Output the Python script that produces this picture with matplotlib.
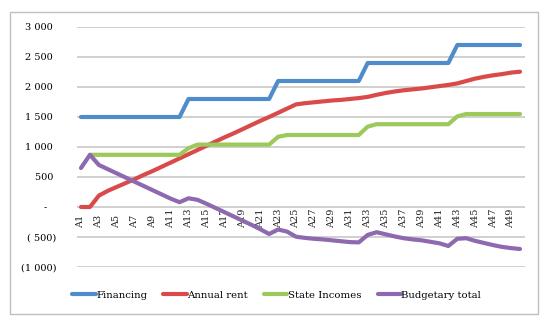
import matplotlib
matplotlib.use("Agg")
import matplotlib.pyplot as plt
from matplotlib.patches import Rectangle
import numpy as np

categories = [f"A{i}" for i in range(1, 51)]

financing = [1500, 1500, 1500, 1500, 1500, 1500, 1500, 1500, 1500, 1500,
             1500, 1500, 1800, 1800, 1800, 1800, 1800, 1800, 1800, 1800,
             1800, 1800, 2100, 2100, 2100, 2100, 2100, 2100, 2100, 2100,
             2100, 2100, 2400, 2400, 2400, 2400, 2400, 2400, 2400, 2400,
             2400, 2400, 2700, 2700, 2700, 2700, 2700, 2700, 2700, 2700]

annual_rent = [0, 0, 190, 270, 335, 400, 465, 535, 600, 670,
               740, 810, 880, 950, 1020, 1090, 1160, 1225, 1295, 1365,
               1435, 1500, 1570, 1640, 1710, 1730, 1745, 1760, 1775, 1785,
               1800, 1815, 1835, 1870, 1900, 1925, 1945, 1960, 1975, 1995,
               2015, 2035, 2060, 2100, 2140, 2170, 2195, 2215, 2240, 2255]

state_incomes = [np.nan, 870, 870, 870, 870, 870, 870, 870, 870, 870,
                 870, 870, 980, 1040, 1040, 1040, 1040, 1040, 1040, 1040,
                 1040, 1040, 1170, 1200, 1200, 1200, 1200, 1200, 1200, 1200,
                 1200, 1200, 1340, 1380, 1380, 1380, 1380, 1380, 1380, 1380,
                 1380, 1380, 1510, 1550, 1550, 1550, 1550, 1550, 1550, 1550]

budgetary_total = [650, 870, 700, 630, 560, 490, 420, 350, 280, 210,
                   140, 80, 145, 120, 55, -15, -85, -155, -225, -295,
                   -370, -450, -375, -410, -495, -515, -530, -540, -555, -570,
                   -585, -590, -465, -420, -455, -490, -520, -540, -555, -580,
                   -605, -650, -530, -520, -565, -600, -635, -665, -685, -700]

series_names = ["Financing", "Annual rent", "State Incomes", "Budgetary total"]
colors = ["#4E8CCB", "#D94B4A", "#9BCA5A", "#8E69B0"]

y_ticks = [-1000, -500, 0, 500, 1000, 1500, 2000, 2500, 3000]
y_tick_labels = ["(1 000)", "( 500)", "-   ", "500 ", "1 000 ", "1 500 ",
                 "2 000 ", "2 500 ", "3 000 "]

FONT = "DejaVu Serif"
FS = 7

fig = plt.figure(figsize=(5.48, 3.26), dpi=100)
ax = fig.add_axes([76.5 / 548, (326 - 267) / 326, 448 / 548, 240 / 326])

x = np.arange(len(categories))
all_series = [financing, annual_rent, state_incomes, budgetary_total]
for vals, name, c in zip(all_series, series_names, colors):
    ax.plot(x, vals, color=c, lw=3.0, label=name, zorder=3,
            solid_capstyle="round", solid_joinstyle="round")

ax.set_xlim(-0.5, len(categories) - 0.5)
ax.set_ylim(-1000, 3000)
ax.set_yticks(y_ticks)
ax.set_yticklabels(y_tick_labels, fontfamily=FONT, fontsize=FS)
ax.tick_params(axis="y", length=0, pad=14.5)
ax.set_xticks([])
ax.grid(axis="y", color="#C4C4C4", lw=1.1, zorder=0)
ax.set_axisbelow(True)
for s in ax.spines.values():
    s.set_visible(False)

# category labels sitting under the zero line
for i, lab in enumerate(categories):
    if i % 2 == 0:
        ax.text(i, -350, lab, rotation=90, ha="center", va="bottom",
                fontfamily=FONT, fontsize=FS, color="#222222", zorder=1)

leg = fig.legend(loc="center", bbox_to_anchor=(0.505, 0.095), ncol=4,
                 frameon=False, prop={"family": FONT, "size": FS + 0.3},
                 handlelength=2.3, handletextpad=0.05, columnspacing=1.6,
                 borderaxespad=0)
for line in leg.get_lines():
    line.set_linewidth(3.0)

fig.patches.append(Rectangle((10 / 548, (326 - 314) / 326), 528 / 548, 302 / 326,
                             transform=fig.transFigure, fill=False,
                             edgecolor="#BFBFBF", lw=1.0))

fig.savefig("out.png", dpi=100)
